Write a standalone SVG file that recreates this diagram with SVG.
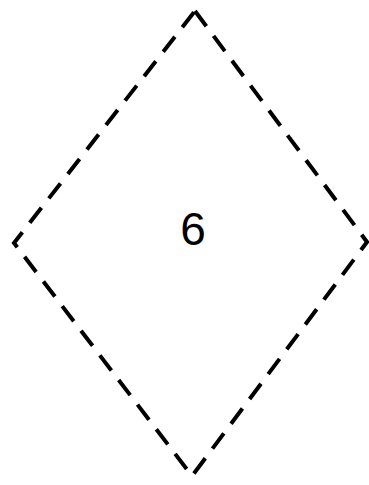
<svg xmlns="http://www.w3.org/2000/svg" width="369" height="485" viewBox="0 0 369 485">
<style>
.shape{fill:none;stroke:#000;stroke-width:4;stroke-dasharray:19 12}
.lbl{font-family:"Liberation Sans",Arial,sans-serif;font-size:46px;fill:#000;text-anchor:middle}
</style>
<rect width="369" height="485" fill="#fff"/>
<g id="node6">
<polygon class="shape" points="195,11 367,242 192,476 14,243"/>
<text class="lbl" x="193" y="245">6</text>
</g>
<g id="connectors"></g>
</svg>
